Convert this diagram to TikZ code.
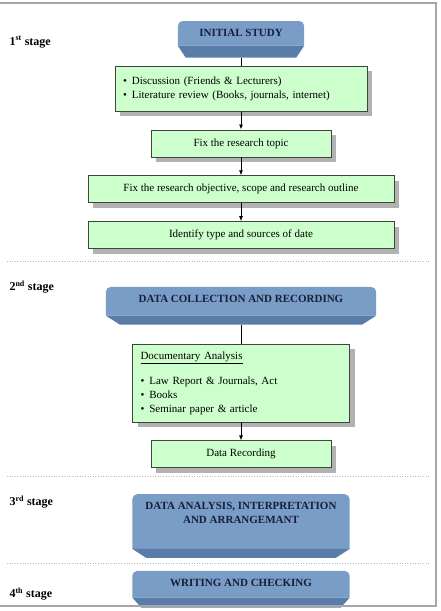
\documentclass[tikz,border=0pt]{standalone}
\usepackage{fontspec}
\setmainfont{Liberation Serif}
\usetikzlibrary{arrows.meta, positioning, shadows, backgrounds}

\definecolor{stagetop}{RGB}{122,157,200}
\definecolor{stagebot}{RGB}{90,124,168}
\definecolor{stagetext}{RGB}{22,30,58}
\definecolor{notegreen}{RGB}{204,255,204}
\definecolor{edgegray}{RGB}{60,70,60}

\begin{document}
\begin{tikzpicture}[
    x=1pt, y=1pt,
    node distance=18pt,
    stagebox/.style={rectangle, minimum width=#1, align=center, font=\bfseries\fontsize{11}{14}\selectfont, text=stagetext, inner ysep=7pt, text height=8.3pt},
    notebox/.style={rectangle, draw=edgegray, line width=0.8pt, fill=notegreen, minimum height=27pt, align=center, font=\fontsize{11}{14}\selectfont, drop shadow={shadow xshift=5pt, shadow yshift=-5pt, fill=black!30, opacity=1}},
    listbox/.style={notebox, align=left, inner xsep=8pt},
    arrow/.style={-{Latex[length=5pt, width=4pt]}, line width=0.8pt},
    link/.style={line width=0.8pt},
    stagelabel/.style={anchor=west, font=\bfseries\fontsize{12}{14}\selectfont},
    sepline/.style={gray!55, dotted, line width=0.6pt},
]
    \useasboundingbox (0,0) rectangle (440,-611);
    \draw[gray!70, line width=1.5pt] (-5,-3) rectangle (436,-606);

    % 1st stage
    \node[stagebox=126pt, text depth=14pt] (init) at (241,-21) [anchor=north] {INITIAL STUDY};
    \node[listbox, text width=236pt, minimum height=45pt, below=8pt of init] (disc) {\textbullet\hspace{5pt}Discussion (Friends \& Lecturers)\\\textbullet\hspace{5pt}Literature review (Books, journals, internet)};
    \node[notebox, minimum width=180pt, below=of disc] (topic) {Fix the research topic};
    \node[notebox, minimum width=306pt, below=of topic] (obj) {Fix the research objective, scope and research outline};
    \node[notebox, minimum width=306pt, below=18pt of obj] (ident) {Identify type and sources of date};

    % 2nd stage
    \node[stagebox=270pt, text depth=15pt, below=38pt of ident] (collect) {DATA COLLECTION AND RECORDING};
    \node[listbox, text width=201pt, minimum height=78pt, below=19pt of collect] (docs) {\underline{Documentary Analysis}\\[11pt]\textbullet\hspace{5pt}Law Report \& Journals, Act\\\textbullet\hspace{5pt}Books\\\textbullet\hspace{5pt}Seminar paper \& article};
    \node[notebox, minimum width=180pt, below=of docs] (record) {Data Recording};

    % 3rd and 4th stage
    \node[stagebox=217pt, text height=22.3pt, text depth=27pt, below=26pt of record] (analysis) {DATA ANALYSIS, INTERPRETATION\\AND ARRANGEMANT};
    \node[stagebox=217pt, text depth=14pt, below=13pt of analysis] (writing) {WRITING AND CHECKING};

    % bevelled stage boxes
    \begin{scope}[on background layer]
        \foreach \n/\b/\i in {init/12/8, collect/9/14, analysis/9/14, writing/10/9} {
            \fill[stagetop] ([yshift=\b]\n.south west) [rounded corners=5pt] -- (\n.north west) -- (\n.north east) [sharp corners] -- ([yshift=\b]\n.south east) -- cycle;
            \fill[stagebot] ([yshift=\b]\n.south west) -- ([xshift=\i]\n.south west) -- ([xshift=-\i]\n.south east) -- ([yshift=\b]\n.south east) -- cycle;
        }
    \end{scope}

    % connectors
    \draw[link] (init) -- (disc);
    \draw[arrow] (disc) -- (topic);
    \draw[arrow] (topic) -- (obj);
    \draw[arrow] (obj) -- (ident);
    \draw[link] (collect) -- (docs);
    \draw[arrow] (docs) -- (record);

    % stage labels and separators
    \node[stagelabel] (s1) at (6,-42) {1\textsuperscript{st} stage};
    \node[stagelabel] (s2) at (6,-287) {2\textsuperscript{nd} stage};
    \node[stagelabel] (s3) at (6,-502) {3\textsuperscript{rd} stage};
    \node[stagelabel] (s4) at (6,-594) {4\textsuperscript{th} stage};
    \draw[sepline] (7,-261) -- (430,-261);
    \draw[sepline] (7,-476) -- (430,-476);
    \draw[sepline] (7,-563) -- (430,-563);
\end{tikzpicture}
\end{document}
